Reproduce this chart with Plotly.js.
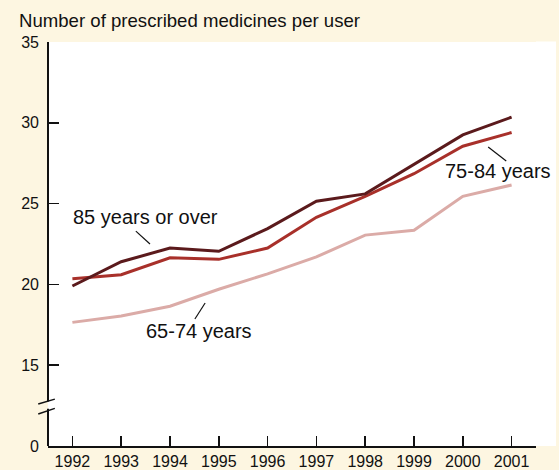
<!DOCTYPE html>
<html>
<head>
<meta charset="utf-8">
<script src="https://cdn.plot.ly/plotly-3.0.1.min.js"></script>
<style>html,body{margin:0;padding:0;background:#fdf6e1;}#chart{width:559px;height:470px;}</style>
</head>
<body>
<div id="chart"></div>
<script>
var years = [1992, 1993, 1994, 1995, 1996, 1997, 1998, 1999, 2000, 2001];
var age85plus = [19.9, 21.4, 22.25, 22.05, 23.45, 25.15, 25.6, 27.45, 29.25, 30.35];
var age75to84 = [20.35, 20.6, 21.65, 21.55, 22.25, 24.15, 25.45, 26.85, 28.55, 29.4];
var age65to74 = [17.65, 18.05, 18.65, 19.7, 20.65, 21.7, 23.05, 23.35, 25.45, 26.15];
var yTickVals = [10, 15, 20, 25, 30, 35];
var yTickText = ['0', '15', '20', '25', '30', '35'];
var seriesNames = ['85 years or over', '75-84 years', '65-74 years'];
var colors = ['#5b1a1c', '#a8302a', '#dbaba7'];

var traces = [age85plus, age75to84, age65to74].map(function (vals, i) {
  return {x: years, y: vals, name: seriesNames[i], type: 'scatter', mode: 'lines',
          line: {color: colors[i], width: 3}, hoverinfo: 'skip'};
});
traces.reverse();

var font = 'Liberation Sans, Arial, sans-serif';
var layout = {
  width: 559, height: 470,
  margin: {l: 48, r: 23, t: 42, b: 24},
  paper_bgcolor: '#fdf6e1', plot_bgcolor: '#ffffff',
  showlegend: false,
  font: {family: font, size: 16, color: '#111'},
  title: {text: 'Number of prescribed medicines per user', xref: 'container', yref: 'container',
          x: 0.034, y: 0.957, xanchor: 'left', yanchor: 'middle', font: {size: 18.6, color: '#111'}},
  xaxis: {range: [1991.5, 2001.5], tickvals: years, ticks: 'inside', ticklen: 10, tickwidth: 1.5,
          tickcolor: '#111', showline: true, linecolor: '#111', linewidth: 2, showgrid: false,
          zeroline: false, fixedrange: true, tickfont: {size: 16}, ticklabelstandoff: 0},
  yaxis: {range: [10, 35], tickvals: yTickVals, ticktext: yTickText, ticks: 'inside', ticklen: 11,
          tickwidth: 1.5, tickcolor: '#111', showline: false, showgrid: false, zeroline: false,
          fixedrange: true, tickfont: {size: 16}, ticklabelstandoff: 8},
  shapes: [
    {type: 'rect', xref: 'paper', yref: 'paper', x0: 1, x1: 1.041, y0: 0, y1: 1.001,
     fillcolor: '#ffffff', line: {width: 0}, layer: 'below'},
    {type: 'line', xref: 'paper', yref: 'y', x0: 0, x1: 0, y0: 10, y1: 12.3, line: {color: '#111', width: 2}},
    {type: 'line', xref: 'paper', yref: 'y', x0: 0, x1: 0, y0: 12.75, y1: 35, line: {color: '#111', width: 2}},
    {type: 'line', xref: 'paper', yref: 'y', x0: -0.02, x1: 0.014, y0: 12.6, y1: 12.9, line: {color: '#111', width: 1.5}},
    {type: 'line', xref: 'paper', yref: 'y', x0: -0.02, x1: 0.014, y0: 11.98, y1: 12.33, line: {color: '#111', width: 1.5}},
    {type: 'line', x0: 1993.30, x1: 1993.59, y0: 23.30, y1: 22.50, line: {color: '#111', width: 1.2}},
    {type: 'line', x0: 1994.72, x1: 1994.51, y0: 18.85, y1: 17.86, line: {color: '#111', width: 1.2}},
    {type: 'line', x0: 2000.52, x1: 2000.89, y0: 28.50, y1: 27.64, line: {color: '#111', width: 1.2}}
  ],
  annotations: [
    {text: seriesNames[0], x: 1991.97, y: 24.17, xanchor: 'left', yanchor: 'middle', showarrow: false,
     font: {size: 20, color: '#111'}},
    {text: seriesNames[2], x: 1993.47, y: 17.12, xanchor: 'left', yanchor: 'middle', showarrow: false,
     font: {size: 20, color: '#111'}},
    {text: seriesNames[1], x: 1999.59, y: 27.02, xanchor: 'left', yanchor: 'middle', showarrow: false,
     font: {size: 20, color: '#111'}}
  ]
};
Plotly.newPlot('chart', traces, layout, {displayModeBar: false, staticPlot: true});
</script>
</body>
</html>
